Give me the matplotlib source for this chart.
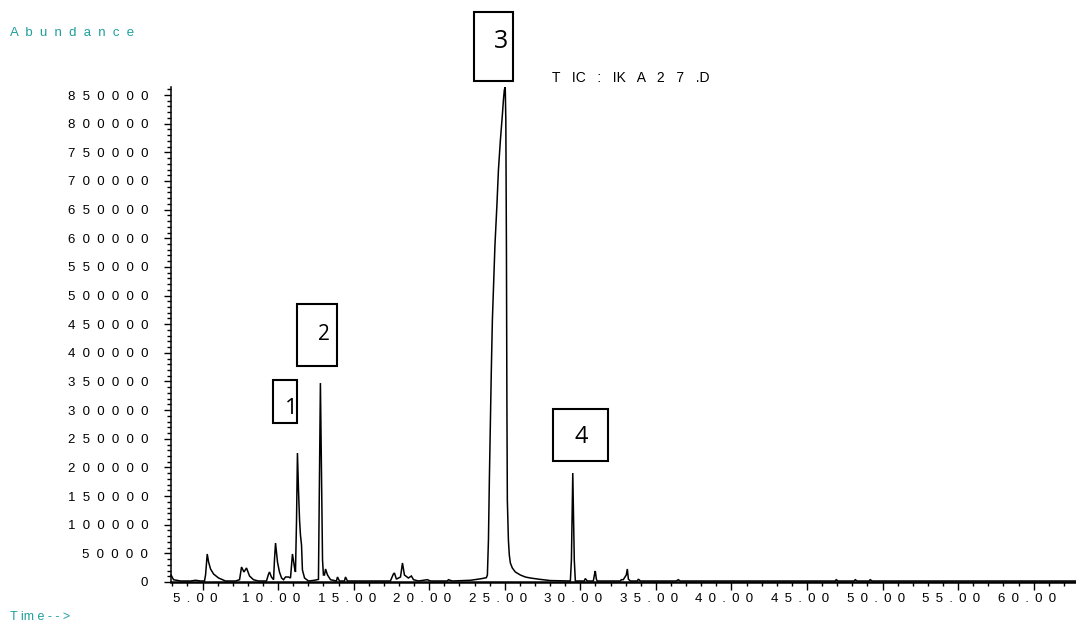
import matplotlib
matplotlib.use("Agg")
import matplotlib.pyplot as plt
import matplotlib.transforms as mtransforms
from matplotlib.patches import Rectangle
from matplotlib.ticker import FixedLocator, MultipleLocator

plt.rcParams['font.family'] = ['Liberation Sans', 'DejaVu Sans']

# TIC trace: retention time (min) and abundance
time_min = [
    2.92, 3.08, 3.55, 4.21, 4.54, 4.87, 5.13, 5.20, 5.31, 5.40, 5.53, 5.73,
    6.06, 6.52, 7.18, 7.45, 7.58, 7.74, 7.91, 8.11, 8.37, 8.70, 9.23, 9.37,
    9.43, 9.56, 9.70, 9.76, 9.83, 9.96, 10.09, 10.23, 10.36, 10.49, 10.69,
    10.82, 10.89, 10.95, 11.09, 11.15, 11.22, 11.28, 11.35, 11.42, 11.48,
    11.55, 11.61, 11.75, 12.01, 12.41, 12.67, 12.74, 12.80, 12.87, 12.94,
    13.00, 13.07, 13.14, 13.27, 13.47, 13.86, 13.93, 14.06, 14.39, 14.46,
    14.59, 17.43, 17.63, 17.70, 17.83, 18.10, 18.23, 18.36, 18.62, 18.82,
    18.96, 19.29, 19.88, 20.08, 21.20, 21.27, 21.53, 22.73, 23.39, 23.78,
    23.85, 23.92, 23.98, 24.05, 24.11, 24.18, 24.25, 24.35, 24.40,
    24.48, 24.58, 24.71, 24.84, 24.91, 24.97, 25.03, 25.07, 25.11, 25.14,
    25.17, 25.24, 25.30, 25.37, 25.50, 25.70, 26.03, 26.36, 26.69, 27.36,
    28.02, 29.34, 29.41, 29.50, 29.60, 29.67, 30.26, 30.33, 30.46, 30.86,
    30.93, 30.99, 31.06, 31.12, 32.65, 32.71, 32.84, 33.04, 33.11, 33.18,
    33.31, 33.77, 33.84, 33.97, 36.35, 36.48, 36.61, 46.87, 46.93, 47.06,
    48.12, 48.19, 48.32, 49.11, 49.18, 49.31, 62.80,
]
abundance = [
    12000, 4000, 1750, 1750, 3000, 1750, 1750, 12215, 48860, 34900, 22685,
    13960, 6980, 1750, 1750, 4000, 26175, 17450, 24430, 10470, 4000, 1750,
    1750, 13960, 17450, 8725, 4000, 38390, 68055, 34900, 17450, 6980, 4000,
    8725, 8725, 6980, 29665, 48860, 24430, 17450, 108190, 225105, 160540,
    108190, 82015, 64565, 20940, 6980, 1750, 3000, 4500, 195440, 347255,
    195440, 38390, 12215, 12215, 22685, 12215, 4000, 1750, 8725, 1750, 1750,
    8725, 1750, 1750, 13960, 15705, 5000, 8725, 33155, 12215, 6980, 10470,
    4000, 1750, 4000, 1750, 1750, 4000, 1750, 3000, 5500, 7500, 12215, 73290,
    177990, 282690, 369940, 457190, 509540, 588065, 615000, 657865,
    718940, 771290, 814915, 841090, 858540, 863775, 806190, 579340, 317590,
    143090, 73290, 47115, 33155, 24430, 17450, 12215, 8725, 6980, 4500, 2500,
    1750, 38390, 190205, 38390, 1750, 1750, 6000, 1750, 1750, 12215, 19195,
    5000, 1750, 1750, 4000, 4000, 12215, 22685, 5000, 1750, 1750, 5000, 1750,
    1750, 4000, 1750, 1750, 4000, 1750, 1750, 4000, 1750, 1750, 4000, 1750,
    1750,
]

y_ticks = list(range(0, 850001, 50000))
x_ticks = [5, 10, 15, 20, 25, 30, 35, 40, 45, 50, 55, 60]

peak_labels = ["1", "2", "3", "4"]
# label boxes in pixels: left, top, right, bottom, number position, size
peak_boxes = [
    (273, 380, 297, 423, 291, 408, 16),
    (297, 304, 337, 366, 324, 335, 15),
    (474, 12, 513, 81, 501, 41, 18),
    (553, 409, 608, 461, 581, 437, 17),
]

TEAL = '#1f9e9e'
W, H = 1076, 626


def spaced(s, gap="  "):
    return gap.join(s)


fig = plt.figure(figsize=(W / 100, H / 100), dpi=100)
ax = fig.add_axes([170.5 / W, 1 - 582 / H, (W - 170.5) / W, (582 - 87) / H])

ax.plot(time_min, abundance, color='black', lw=1.1, clip_on=False,
        solid_joinstyle='miter')
ax.set_xlim(2.88, 62.80)
ax.set_ylim(0, 864000)

for side in ['top', 'right']:
    ax.spines[side].set_visible(False)
ax.spines['left'].set_linewidth(1.1)
ax.spines['bottom'].set_linewidth(1.8)

ax.yaxis.set_major_locator(FixedLocator(y_ticks))
ax.yaxis.set_minor_locator(MultipleLocator(10000))
ax.xaxis.set_major_locator(FixedLocator(x_ticks))
ax.xaxis.set_minor_locator(MultipleLocator(1))

ax.tick_params(axis='y', which='major', length=5, width=1, pad=11,
               labelsize=9.5, colors='black')
ax.tick_params(axis='y', which='minor', length=3, width=1)
ax.tick_params(axis='x', which='major', length=6, width=1, labelbottom=False)
ax.tick_params(axis='x', which='minor', length=3, width=1)
ax.set_yticklabels([spaced(str(v)) for v in y_ticks])

# x labels sit a little left of their ticks
offset = mtransforms.ScaledTranslation(-0.07, -0.105, fig.dpi_scale_trans)
for v in x_ticks:
    ax.text(v, 0, spaced(f"{v:.2f}", " \u2009"), fontsize=9.5,
            transform=ax.get_xaxis_transform() + offset,
            ha='center', va='top')

fig.text(10 / W, 1 - 33 / H, spaced("Abundance"), color=TEAL,
         fontsize=9.5, va='center', ha='left')
fig.text(10 / W, 1 - 617 / H, "T im e - - >", color=TEAL,
         fontsize=9, va='center', ha='left')
fig.text(552 / W, 1 - 78 / H, "T   IC   :   IK   A   2   7   .D",
         color='black', fontsize=10, va='center', ha='left')

for lab, (x0, y0, x1, y1, tx, ty, fs) in zip(peak_labels, peak_boxes):
    fig.add_artist(Rectangle((x0 / W, 1 - y1 / H), (x1 - x0) / W,
                             (y1 - y0) / H, transform=fig.transFigure,
                             fill=False, edgecolor='black', lw=1.5))
    fig.text(tx / W, 1 - ty / H, lab, fontsize=fs, family='Open Sans',
             ha='center', va='center')

fig.savefig("out.png", dpi=100)
